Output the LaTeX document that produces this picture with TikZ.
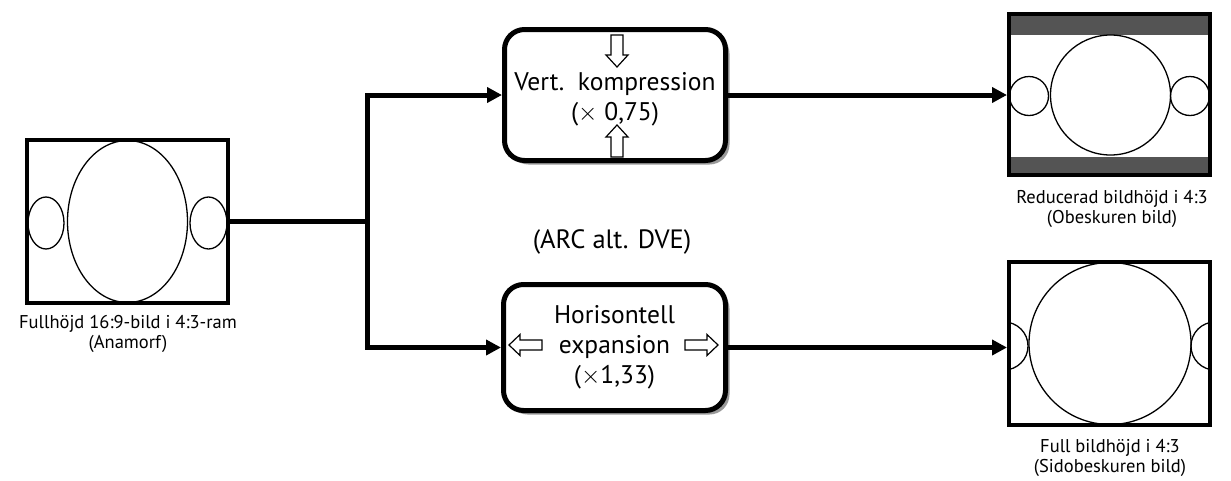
\documentclass[tikz,border=0pt]{standalone}
\usepackage{fontspec}
\setmainfont{PT Sans}
\usetikzlibrary{arrows.meta,shadows}
\begin{document}
\begin{tikzpicture}[x=1pt,y=-1pt,
 frame/.style={draw,line width=4pt,inner sep=0pt,minimum width=201pt,minimum height=163pt},
 proc/.style={draw,line width=5pt,rounded corners=20pt,fill=white,minimum width=221pt,minimum height=131pt,inner sep=0pt,align=center,
   drop shadow={shadow xshift=4pt,shadow yshift=-4pt,fill=black!40,opacity=1}},
 conn/.style={line width=5pt},
 arr/.style={conn,-{Triangle[length=15pt,width=15pt]}},
 hollow/.style={draw,line width=1.2pt,fill=white},
 lbl/.style={font=\fontsize{18.5}{20}\selectfont,align=center,inner sep=0pt},
 boxfont/.style={font=\fontsize{25.5}{30}\selectfont},
 picline/.style={line width=1.3pt},
 bar/.style={fill=black!67}]
\useasboundingbox (0,0) rectangle (1231,480);

% source frame
\draw[picline] (127.5,221.5) ellipse [x radius=60,y radius=81];
\draw[picline] (46,223) ellipse [x radius=18,y radius=26];
\draw[picline] (208.5,223) ellipse [x radius=18.5,y radius=26];
\node[frame] (src) at (127.5,221.5) {};
\node[lbl] (srclbl) at (128,334) {Fullhöjd 16:9-bild i 4:3-ram\\(Anamorf)};

% top result frame
\fill[bar] (1009,14) rectangle (1210,35);
\fill[bar] (1009,157) rectangle (1210,175);
\draw[picline] (1110.5,95) circle (60);
\draw[picline] (1029,96) circle (19.5);
\draw[picline] (1190,96) circle (19.5);
\node[frame,minimum height=161pt] (dst1) at (1109.5,94.5) {};
\node[lbl] (dst1lbl) at (1112,208.5) {Reducerad bildhöjd i 4:3\\(Obeskuren bild)};

% bottom result frame
\draw[picline] (1110,343.5) circle (81);
\begin{scope}
\clip (1009,262) rectangle (1210,425);
\draw[picline] (1004,346) circle (24);
\draw[picline] (1215,346) circle (24);
\end{scope}
\node[frame] (dst2) at (1109.5,343.5) {};
\node[lbl] (dst2lbl) at (1110,457.5) {Full bildhöjd i 4:3\\(Sidobeskuren bild)};

% process boxes
\node[proc,boxfont] (vc) at (615,95) {\rule{0pt}{26pt}Vert.\ \ kompression\\($\times$ 0,75)};
\node[proc,boxfont,minimum width=222pt,minimum height=126pt] (he) at (614.5,347.5) {Horisontell\\expansion\\($\times$1,33)};
\node[font=\fontsize{26.5}{30}\selectfont] (arc) at (612,242) {(ARC alt. DVE)};

% hollow arrows
\draw[hollow] (611,35) -- (623,35) -- (623,55) -- (628,55) -- (617,67) -- (606,55) -- (611,55) -- cycle;
\draw[hollow] (611,157) -- (623,157) -- (623,137) -- (628,137) -- (617,125) -- (606,137) -- (611,137) -- cycle;
\draw[hollow] (542,340) -- (520,340) -- (520,334.5) -- (509,345) -- (520,355.5) -- (520,350) -- (542,350) -- cycle;
\draw[hollow] (685,340) -- (707,340) -- (707,334.5) -- (718,345) -- (707,355.5) -- (707,350) -- (685,350) -- cycle;

% connectors
\coordinate (split) at (367,221.5);
\draw[conn] (src.east) -- (split);
\draw[arr] (split) |- (vc.west);
\draw[arr] (split) |- (he.west);
\draw[arr] (vc.east) -- (vc.east -| dst1.west);
\draw[arr] (he.east) -- (he.east -| dst2.west);
\end{tikzpicture}
\end{document}
